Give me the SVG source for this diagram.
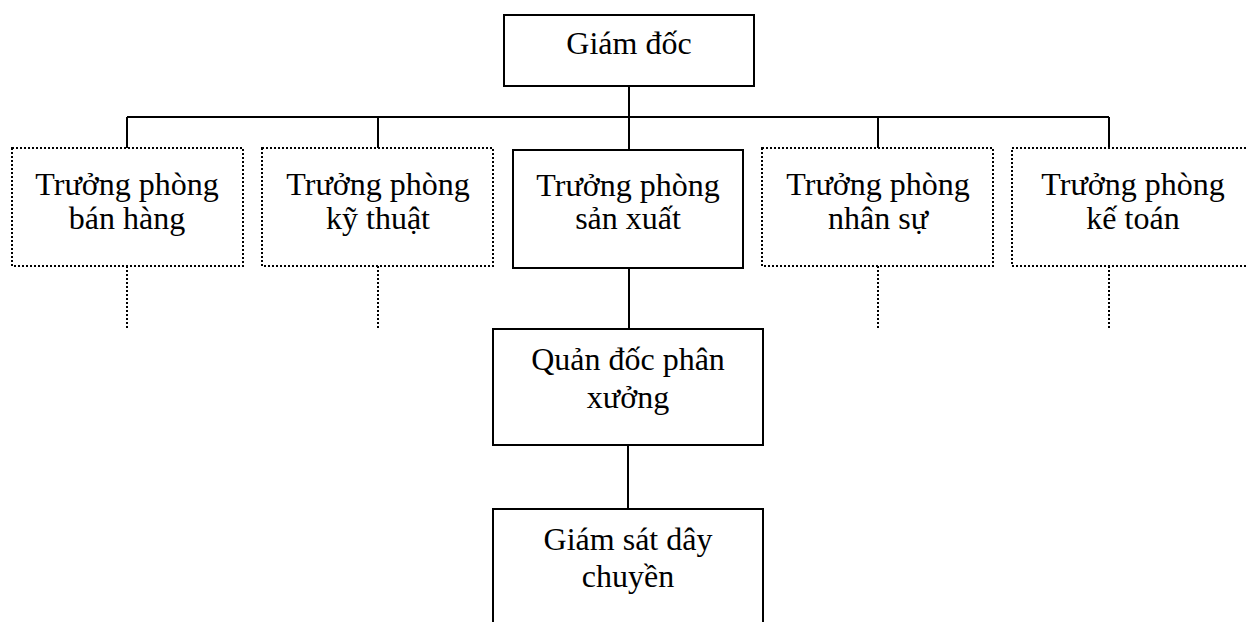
<svg xmlns="http://www.w3.org/2000/svg" width="1246" height="622" viewBox="0 0 1246 622">
  <style>
    .solid { fill: #ffffff; stroke: #000000; stroke-width: 2; }
    .dotted { fill: #ffffff; stroke: #000000; stroke-width: 2; stroke-dasharray: 2 2; }
    .wire { fill: none; stroke: #000000; stroke-width: 2; }
    .wire-dot { fill: none; stroke: #000000; stroke-width: 2; stroke-dasharray: 2 2; }
    .label { font-family: "Liberation Serif", "Times New Roman", serif; font-size: 32px; fill: #000000; text-anchor: middle; }
  </style>
  <rect width="1246" height="622" fill="#ffffff"/>

  <!-- connectors -->
  <g id="connectors">
    <line class="wire" x1="629" y1="86" x2="629" y2="117"/>
    <line class="wire" x1="127" y1="117" x2="1109" y2="117"/>
    <line class="wire" x1="127" y1="117" x2="127" y2="148"/>
    <line class="wire" x1="378" y1="117" x2="378" y2="148"/>
    <line class="wire" x1="629" y1="117" x2="629" y2="150"/>
    <line class="wire" x1="878" y1="117" x2="878" y2="148"/>
    <line class="wire" x1="1109" y1="117" x2="1109" y2="148"/>
    <line class="wire" x1="629" y1="268" x2="629" y2="329"/>
    <line class="wire" x1="628" y1="445" x2="628" y2="509"/>
    <line class="wire-dot" x1="127" y1="266" x2="127" y2="328"/>
    <line class="wire-dot" x1="378" y1="266" x2="378" y2="328"/>
    <line class="wire-dot" x1="878" y1="266" x2="878" y2="328"/>
    <line class="wire-dot" x1="1109" y1="266" x2="1109" y2="328"/>
  </g>

  <g id="giam-doc">
    <rect class="solid" x="504" y="15" width="250" height="71"/>
    <text class="label" x="629" y="54">Giám đốc</text>
  </g>

  <g id="ban-hang">
    <rect class="dotted" x="12" y="148" width="231" height="118"/>
    <text class="label" x="127" y="195">Trưởng phòng</text>
    <text class="label" x="127" y="229">bán hàng</text>
  </g>

  <g id="ky-thuat">
    <rect class="dotted" x="262" y="148" width="231" height="118"/>
    <text class="label" x="378" y="195">Trưởng phòng</text>
    <text class="label" x="378" y="229">kỹ thuật</text>
  </g>

  <g id="san-xuat">
    <rect class="solid" x="513" y="150" width="230" height="118"/>
    <text class="label" x="628" y="196">Trưởng phòng</text>
    <text class="label" x="628" y="229">sản xuất</text>
  </g>

  <g id="nhan-su">
    <rect class="dotted" x="762" y="148" width="231" height="118"/>
    <text class="label" x="878" y="195">Trưởng phòng</text>
    <text class="label" x="878" y="229">nhân sự</text>
  </g>

  <g id="ke-toan">
    <rect class="dotted" x="1012" y="148" width="242" height="118"/>
    <text class="label" x="1133" y="195">Trưởng phòng</text>
    <text class="label" x="1133" y="229">kế toán</text>
  </g>

  <g id="quan-doc">
    <rect class="solid" x="493" y="329" width="270" height="116"/>
    <text class="label" x="628" y="370">Quản đốc phân</text>
    <text class="label" x="628" y="408">xưởng</text>
  </g>

  <g id="giam-sat">
    <rect class="solid" x="493" y="509" width="270" height="130"/>
    <text class="label" x="628" y="550">Giám sát dây</text>
    <text class="label" x="628" y="587">chuyền</text>
  </g>
</svg>
